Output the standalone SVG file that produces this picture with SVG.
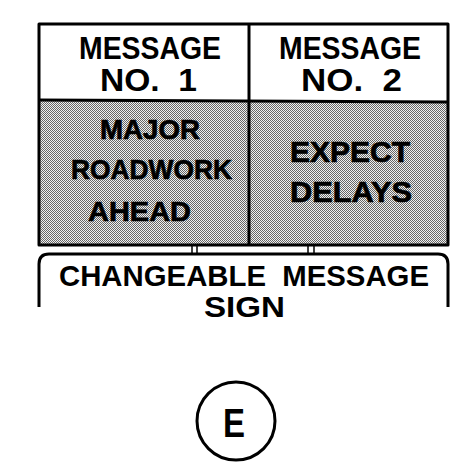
<svg xmlns="http://www.w3.org/2000/svg" width="456" height="470" viewBox="0 0 456 470">
<defs>
<pattern id="dots" patternUnits="userSpaceOnUse" width="2" height="2">
<rect width="2" height="2" fill="#f0f0f0"/>
<rect width="1" height="1" fill="#666"/>
<rect x="1" y="1" width="1" height="1" fill="#666"/>
</pattern>
</defs>
<style>
.ln{fill:none;stroke:#000;stroke-width:3;stroke-linejoin:round}
.thin{fill:none;stroke:#000;stroke-width:1.5}
.t{font-family:"Liberation Sans",Arial,sans-serif;font-weight:bold;fill:#000;text-anchor:start}
.g{stroke:#000;stroke-width:0.7}
</style>
<g id="sign-panel">
<rect x="39" y="101" width="409" height="144" fill="url(#dots)"/>
<rect x="39" y="24" width="409" height="221" class="ln"/>
<line x1="249" y1="24" x2="249" y2="245" class="ln"/>
<line x1="39" y1="100" x2="448" y2="102" class="ln"/>
</g>
<g id="msg1-header">
<text class="t" x="79" y="59" font-size="31" textLength="142" lengthAdjust="spacingAndGlyphs">MESSAGE</text>
<text class="t" x="100" y="91" font-size="31" textLength="97" lengthAdjust="spacingAndGlyphs" xml:space="preserve">NO.  1</text>
</g>
<g id="msg2-header">
<text class="t" x="279" y="59" font-size="31" textLength="142" lengthAdjust="spacingAndGlyphs">MESSAGE</text>
<text class="t" x="301" y="91" font-size="31" textLength="101" lengthAdjust="spacingAndGlyphs" xml:space="preserve">NO.  2</text>
</g>
<g id="msg1-text">
<text class="t g" x="100" y="139" font-size="28" textLength="100" lengthAdjust="spacingAndGlyphs">MAJOR</text>
<text class="t g" x="71" y="179" font-size="28" textLength="161" lengthAdjust="spacingAndGlyphs">ROADWORK</text>
<text class="t g" x="88" y="221" font-size="28" textLength="103" lengthAdjust="spacingAndGlyphs">AHEAD</text>
</g>
<g id="msg2-text">
<text class="t g" x="290" y="162" font-size="29" textLength="120" lengthAdjust="spacingAndGlyphs">EXPECT</text>
<text class="t g" x="290" y="202" font-size="29" textLength="122" lengthAdjust="spacingAndGlyphs">DELAYS</text>
</g>
<g id="connectors">
<line x1="192" y1="246" x2="192" y2="253" class="thin"/>
<line x1="197" y1="246" x2="197" y2="253" class="thin"/>
<line x1="308" y1="246" x2="308" y2="253" class="thin"/>
<line x1="314" y1="246" x2="314" y2="253" class="thin"/>
</g>
<g id="cms-label">
<path d="M39,307 V264 Q39,254 49,254 H438 Q448,254 448,264 V307" class="ln" stroke-width="2.5"/>
<text class="t" x="59" y="286" font-size="30" textLength="370" lengthAdjust="spacingAndGlyphs" xml:space="preserve">CHANGEABLE  MESSAGE</text>
<text class="t" x="204" y="317" font-size="30" textLength="81" lengthAdjust="spacingAndGlyphs">SIGN</text>
</g>
<g id="marker-E">
<circle cx="236" cy="421" r="39" class="ln" stroke-width="2.5"/>
<text class="t" x="223" y="437" font-size="41" textLength="22" lengthAdjust="spacingAndGlyphs">E</text>
</g>
</svg>
